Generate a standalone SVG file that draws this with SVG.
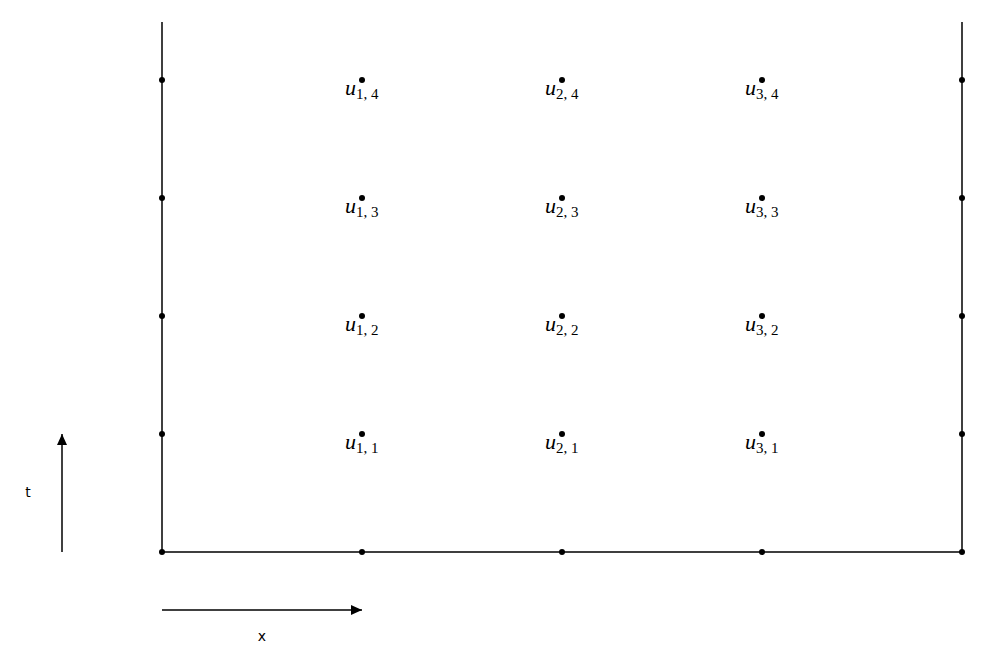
<svg xmlns="http://www.w3.org/2000/svg" width="989" height="654" viewBox="0 0 989 654">
<style>
.ln{stroke:#000;stroke-width:1.5;fill:none}
.dot{fill:#000}
.lab{font-family:"Liberation Serif",serif;font-size:22px;fill:#000}
.u{font-style:italic}
.sub{font-size:15px}
.ax{font-family:"DejaVu Sans","Liberation Sans",sans-serif;font-size:14px;fill:#000}
</style>
<defs>
<marker id="ah" markerWidth="12" markerHeight="12" refX="11" refY="6" orient="auto" markerUnits="userSpaceOnUse">
<path d="M0,1 L11,6 L0,11 Z" fill="#000"/>
</marker>
<circle id="d" r="3" class="dot"/>
</defs>
<rect width="989" height="654" fill="#fff"/>
<g id="connectors">
<path class="ln" d="M162,22 V552 H962 V22"/>
<line class="ln" x1="162" y1="610" x2="362" y2="610" marker-end="url(#ah)"/>
<line class="ln" x1="62" y1="552" x2="62" y2="434" marker-end="url(#ah)"/>
</g>
<g id="boundary">
<use href="#d" x="162" y="80"/><use href="#d" x="162" y="198"/><use href="#d" x="162" y="316"/><use href="#d" x="162" y="434"/><use href="#d" x="162" y="552"/>
<use href="#d" x="962" y="80"/><use href="#d" x="962" y="198"/><use href="#d" x="962" y="316"/><use href="#d" x="962" y="434"/><use href="#d" x="962" y="552"/>
<use href="#d" x="362" y="552"/><use href="#d" x="562" y="552"/><use href="#d" x="762" y="552"/>
</g>
<g id="n14"><use href="#d" x="362" y="80"/><text class="lab" x="345" y="95"><tspan class="u">u</tspan><tspan class="sub" dy="4">1, 4</tspan></text></g>
<g id="n24"><use href="#d" x="562" y="80"/><text class="lab" x="545" y="95"><tspan class="u">u</tspan><tspan class="sub" dy="4">2, 4</tspan></text></g>
<g id="n34"><use href="#d" x="762" y="80"/><text class="lab" x="745" y="95"><tspan class="u">u</tspan><tspan class="sub" dy="4">3, 4</tspan></text></g>
<g id="n13"><use href="#d" x="362" y="198"/><text class="lab" x="345" y="213"><tspan class="u">u</tspan><tspan class="sub" dy="4">1, 3</tspan></text></g>
<g id="n23"><use href="#d" x="562" y="198"/><text class="lab" x="545" y="213"><tspan class="u">u</tspan><tspan class="sub" dy="4">2, 3</tspan></text></g>
<g id="n33"><use href="#d" x="762" y="198"/><text class="lab" x="745" y="213"><tspan class="u">u</tspan><tspan class="sub" dy="4">3, 3</tspan></text></g>
<g id="n12"><use href="#d" x="362" y="316"/><text class="lab" x="345" y="331"><tspan class="u">u</tspan><tspan class="sub" dy="4">1, 2</tspan></text></g>
<g id="n22"><use href="#d" x="562" y="316"/><text class="lab" x="545" y="331"><tspan class="u">u</tspan><tspan class="sub" dy="4">2, 2</tspan></text></g>
<g id="n32"><use href="#d" x="762" y="316"/><text class="lab" x="745" y="331"><tspan class="u">u</tspan><tspan class="sub" dy="4">3, 2</tspan></text></g>
<g id="n11"><use href="#d" x="362" y="434"/><text class="lab" x="345" y="449"><tspan class="u">u</tspan><tspan class="sub" dy="4">1, 1</tspan></text></g>
<g id="n21"><use href="#d" x="562" y="434"/><text class="lab" x="545" y="449"><tspan class="u">u</tspan><tspan class="sub" dy="4">2, 1</tspan></text></g>
<g id="n31"><use href="#d" x="762" y="434"/><text class="lab" x="745" y="449"><tspan class="u">u</tspan><tspan class="sub" dy="4">3, 1</tspan></text></g>
<g id="axis-labels">
<text class="ax" x="262" y="641" text-anchor="middle">x</text>
<text class="ax" x="28" y="497" text-anchor="middle">t</text>
</g>
</svg>
